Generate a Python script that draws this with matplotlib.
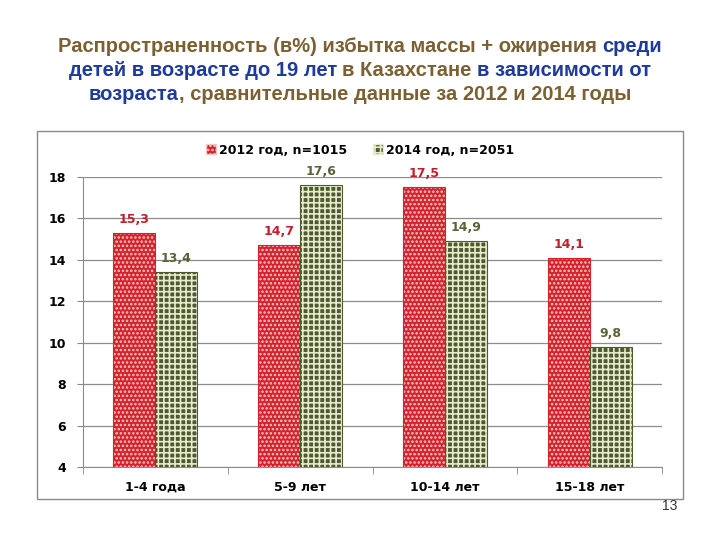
import numpy as np
import matplotlib
matplotlib.use("Agg")
import matplotlib.pyplot as plt
from matplotlib.patches import Rectangle, Patch

plt.rcParams['hatch.linewidth'] = 1.2

categories = ["1-4 года", "5-9 лет", "10-14 лет", "15-18 лет"]
vals_2012 = [15.3, 14.7, 17.5, 14.1]
vals_2014 = [13.4, 17.6, 14.9, 9.8]
labels_2012 = ["15,3", "14,7", "17,5", "14,1"]
labels_2014 = ["13,4", "17,6", "14,9", "9,8"]
legend_names = ["2012 год, n=1015", "2014 год, n=2051"]

brown = "#7b6132"
blue = "#1e3a9a"
title_lines = [
    [("Распространенность (в%) избытка массы + ожирения ", brown), ("среди", blue)],
    [("детей в возрасте до 19 лет ", blue), ("в Казахстане ", brown), ("в зависимости от", blue)],
    [("возраста", blue), (", сравнительные данные за 2012 и 2014 годы", brown)],
]

red = "#d3232c"
red_light = "#f7c8c8"
green = "#4d5a2c"
green_light = "#e6ebcf"
red_txt = "#c41e2a"
green_txt = "#5b6436"
red_hatch = "...."
green_hatch = "+++"

fig = plt.figure(figsize=(7.2, 5.4), dpi=100)

# chart frame
fig.patches.append(Rectangle((37 / 720, 1 - 499 / 540), 646 / 720, 368 / 540,
                             transform=fig.transFigure, fill=False,
                             edgecolor="#8a8a8a", lw=1.0))

ax = fig.add_axes([83 / 720, 1 - 467 / 540, 579 / 720, 290 / 540])
x = np.arange(len(categories))
w = 0.29

ax.bar(x - w / 2, vals_2012, w, color=red, edgecolor=red_light,
       hatch=red_hatch, linewidth=0, zorder=3)
ax.bar(x - w / 2, vals_2012, w, fill=False, edgecolor=red, linewidth=0.8, zorder=4)
ax.bar(x + w / 2, vals_2014, w, color=green, edgecolor=green_light,
       hatch=green_hatch, linewidth=0, zorder=3)
ax.bar(x + w / 2, vals_2014, w, fill=False, edgecolor=green, linewidth=0.8, zorder=4)

for i in range(len(categories)):
    ax.text(x[i] - w / 2, vals_2012[i] + 0.35, labels_2012[i], ha="center", va="bottom",
            color=red_txt, fontsize=9, fontweight="bold")
    ax.text(x[i] + w / 2, vals_2014[i] + 0.35, labels_2014[i], ha="center", va="bottom",
            color=green_txt, fontsize=9, fontweight="bold")

ax.set_ylim(4, 18)
ax.set_xlim(-0.5, len(categories) - 0.5)
ax.set_yticks(np.arange(4, 19, 2))
ax.set_xticks(x)
ax.set_xticklabels(categories, fontsize=9, fontweight="bold")
ax.set_xticks(np.arange(-0.5, len(categories), 1), minor=True)
ax.tick_params(axis="x", which="major", length=0, pad=10)
ax.tick_params(axis="x", which="minor", length=5, color="#888888", direction="out")
ax.tick_params(axis="y", length=4, color="#888888", pad=8)
for lab in ax.get_yticklabels():
    lab.set_fontweight("bold")
    lab.set_fontsize(9)
ax.yaxis.grid(True, color="#8c8c8c", lw=0.9, zorder=0)
ax.set_axisbelow(True)
for s in ["top", "right"]:
    ax.spines[s].set_visible(False)
ax.spines["left"].set_color("#8c8c8c")
ax.spines["bottom"].set_color("#8c8c8c")

handles = [Patch(facecolor=red, edgecolor=red_light, hatch=red_hatch),
           Patch(facecolor=green, edgecolor=green_light, hatch=green_hatch)]
fig.legend(handles, legend_names, loc="center", bbox_to_anchor=(0.5, 1 - 150 / 540),
           ncol=2, frameon=False, handlelength=0.8, handleheight=0.8,
           handletextpad=0.3, columnspacing=2.0,
           prop={"size": 9, "weight": "bold"})

# multi-colour title
renderer = fig.canvas.get_renderer()
tfont = dict(family="Liberation Sans", fontsize=14.5, fontweight="bold")


def text_width(s):
    t = fig.text(0, 0, s, **tfont)
    wpx = t.get_window_extent(renderer).width
    t.remove()
    return wpx


bar_w = text_width("|")
line_y = [46, 70, 94]
for pieces, yy in zip(title_lines, line_y):
    full = "".join(p for p, c in pieces)
    total = text_width(full)
    left = 360 - total / 2
    prefix = ""
    for p, c in pieces:
        off = 0 if prefix == "" else text_width(prefix + "|") - bar_w
        fig.text((left + off) / 720, 1 - yy / 540, p, color=c, ha="left", va="center", **tfont)
        prefix += p

fig.text(677 / 720, 1 - 506 / 540, "13", ha="right", va="center",
         family="Liberation Sans", fontsize=10, color="#333333")

fig.savefig("out.png", dpi=100)
